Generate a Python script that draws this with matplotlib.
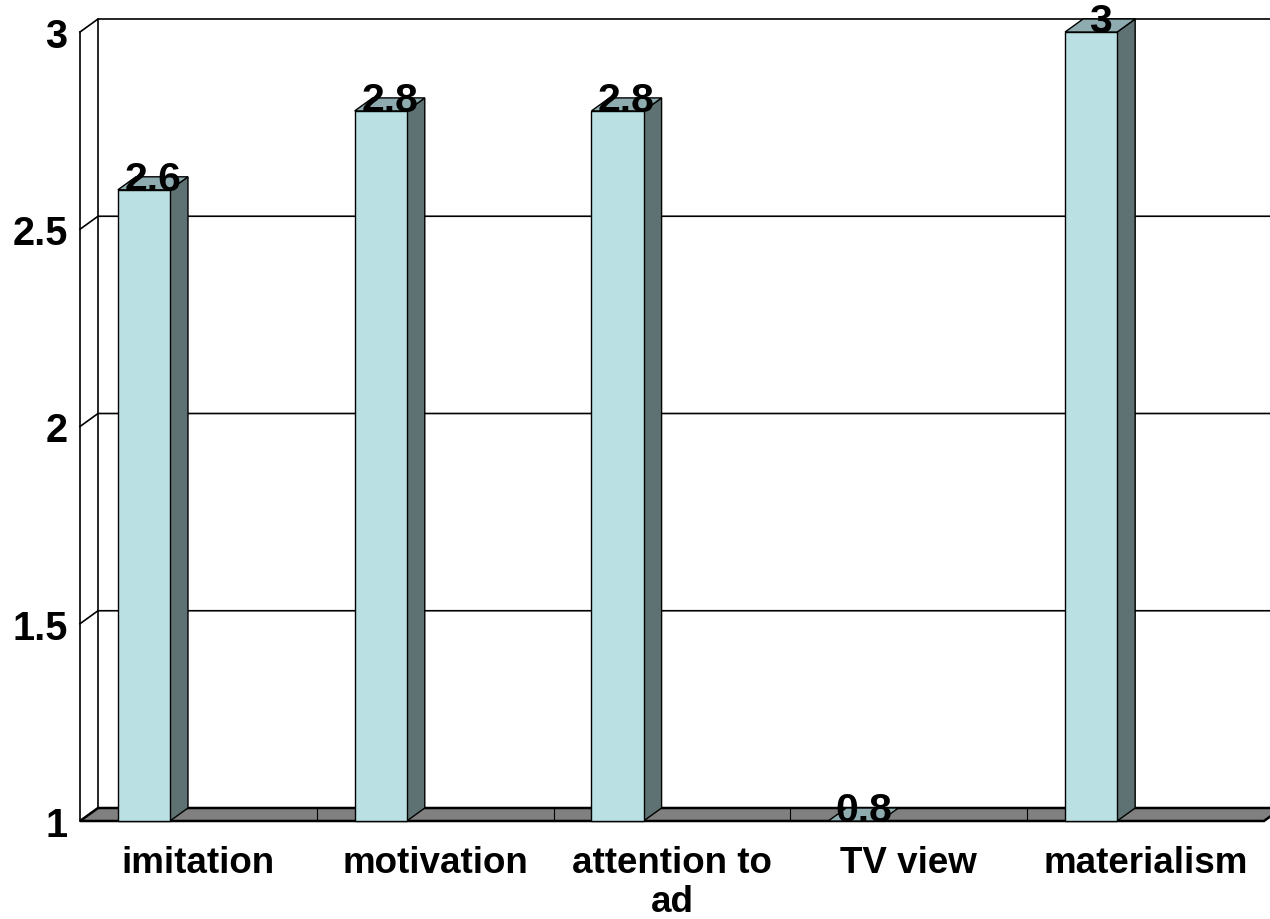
import matplotlib
matplotlib.use("Agg")
from matplotlib import pyplot as plt
from matplotlib.patches import Polygon

categories = ["imitation", "motivation", "attention to\nad", "TV view", "materialism"]
values = [2.6, 2.8, 2.8, 0.8, 3.0]
yticks = [1, 1.5, 2, 2.5, 3]
ytick_labels = ["1", "1.5", "2", "2.5", "3"]

plt.rcParams['font.family'] = ['Liberation Sans', 'DejaVu Sans']
plt.rcParams['font.weight'] = 'bold'

W, H = 1270, 920
fig = plt.figure(figsize=(W / 100, H / 100), dpi=100)
ax = fig.add_axes([80 / W, (H - 822) / H, (1264 - 80) / W, (822 - 33) / H])
ax.set_xlim(-0.5, 4.5)
ax.set_ylim(1, 3)
for s in ax.spines.values():
    s.set_visible(False)

# 3d depth offset (data units)
dx = 18 / 236.8
dv = 13 / 394.5
front = "#BAE0E3"
side = "#5F7273"
top_c = "#8EACAF"

# walls and gridlines
ax.plot([-0.5, -0.5], [1, 3], color="black", lw=1.2, clip_on=False, zorder=1)
ax.plot([-0.5 + dx, -0.5 + dx], [1 + dv, 3 + dv], color="black", lw=1.2, clip_on=False, zorder=1)
for v in yticks[1:]:
    ax.plot([-0.5, -0.5 + dx, 4.5 + dx + 0.2], [v, v + dv, v + dv],
            color="black", lw=1.2, clip_on=False, zorder=1)

# floor
floor = Polygon([(-0.5, 1), (4.5, 1), (4.5 + dx, 1 + dv), (-0.5 + dx, 1 + dv)],
                closed=True, facecolor="#808080", edgecolor="black", lw=1.8,
                clip_on=False, zorder=2)
ax.add_patch(floor)
for k in range(1, len(categories)):
    ax.plot([k - 0.5, k - 0.5], [1, 1 + dv], color="black", lw=0.8, clip_on=False, zorder=2)

# bars
w = 0.22
for i, v in enumerate(values):
    x0 = i - 0.34
    top = max(v, 1)
    if v > 1:
        ax.bar(x0, top - 1, width=w, bottom=1, align='edge', color=front,
               edgecolor="black", lw=1, zorder=4, clip_on=False)
        ax.add_patch(Polygon([(x0 + w, 1), (x0 + w + dx, 1 + dv), (x0 + w + dx, top + dv), (x0 + w, top)],
                             closed=True, facecolor=side, edgecolor="black", lw=1, zorder=3, clip_on=False))
    ax.add_patch(Polygon([(x0, top), (x0 + w, top), (x0 + w + dx, top + dv), (x0 + dx, top + dv)],
                         closed=True, facecolor=top_c, edgecolor="black", lw=1, zorder=4, clip_on=False))
    ax.annotate(f"{v:g}", (x0 + w / 2 + dx / 2, top), xytext=(0, 8), textcoords="offset points",
                ha="center", va="center", fontsize=29.5, fontweight="bold", zorder=6,
                annotation_clip=False)

ax.set_yticks(yticks)
ax.set_yticklabels(ytick_labels, fontsize=28.5, fontweight="bold")
ax.set_xticks(range(len(categories)))
ax.set_xticklabels(categories, fontsize=26.5, fontweight="bold", linespacing=1.15)
ax.tick_params(axis="y", length=0, pad=9)
ax.tick_params(axis="x", length=0, pad=17)

fig.savefig("out.png", dpi=100)
